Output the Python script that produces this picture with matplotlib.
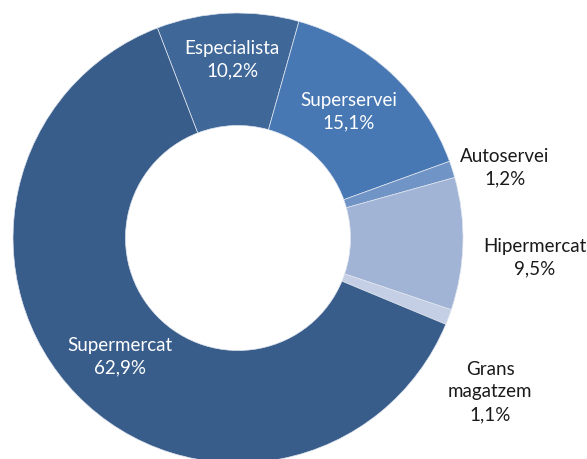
import matplotlib
matplotlib.use("Agg")
import matplotlib.pyplot as plt

# data
categories = ["Especialista", "Superservei", "Autoservei", "Hipermercat", "Grans\nmagatzem", "Supermercat"]
shares = [10.2, 15.1, 1.2, 9.5, 1.1, 62.9]
colors = ["#3f6899", "#4878b4", "#7094c6", "#a2b4d6", "#c4cfe5", "#395d8a"]

# label placement (pixel coords, y from top) and text colour
label_pos = [(232, 60), (349, 112), (505, 168), (535, 258), (490, 392), (120, 357)]
label_col = ["white", "white", "#1a1a1a", "#1a1a1a", "#1a1a1a", "white"]

W, H = 587, 460
fig = plt.figure(figsize=(W / 100, H / 100), dpi=100)
ax = fig.add_axes([0, 0, 1, 1])

cx, cy, R = 238, H - 239, 225
ax.pie(shares, colors=colors, startangle=111, counterclock=False,
       center=(cx, cy), radius=R, frame=True,
       wedgeprops=dict(width=R * 0.5, edgecolor="#dfe5ef", linewidth=0.5))
ax.set_xlim(0, W)
ax.set_ylim(0, H)
ax.set_aspect("equal")
ax.axis("off")

for name, val, (x, y), c in zip(categories, shares, label_pos, label_col):
    txt = f"{name}\n{val:.1f}%".replace(".", ",")
    ax.text(x, H - y, txt, ha="center", va="center", color=c,
            fontsize=13.5, family="Lato", linespacing=1.4)

fig.savefig("out.png", dpi=100)
